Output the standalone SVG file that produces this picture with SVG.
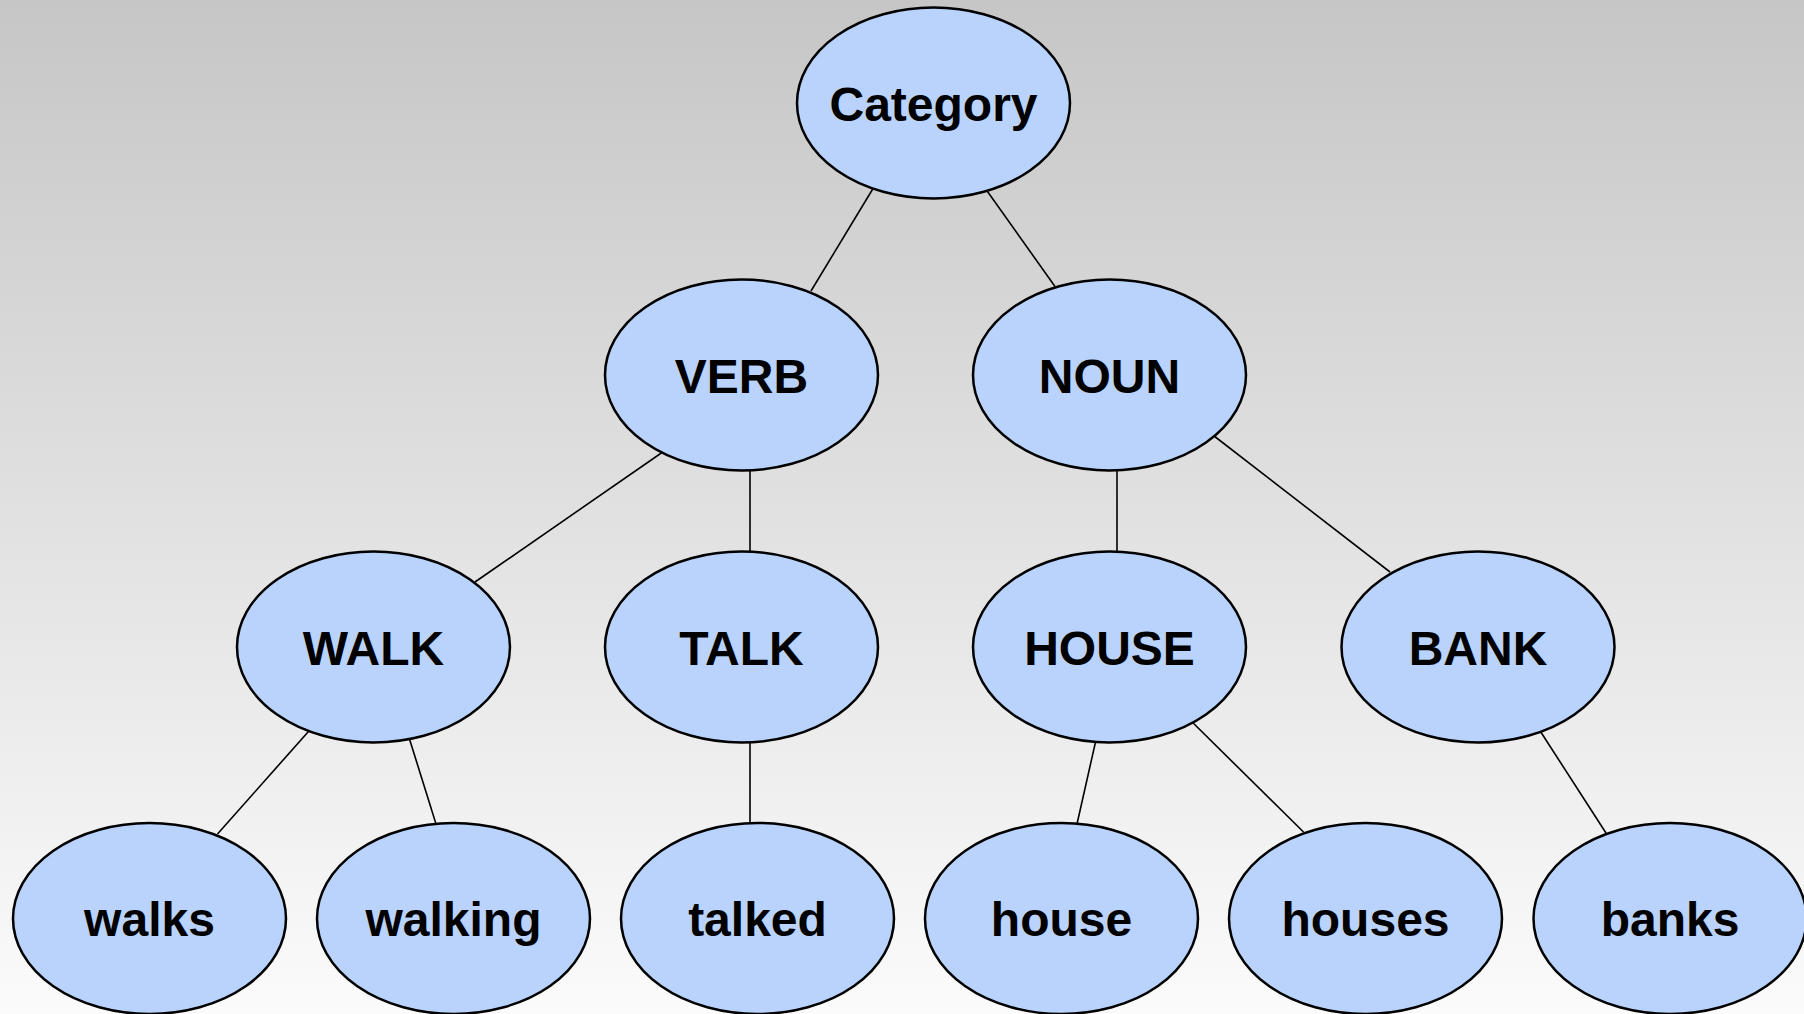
<svg xmlns="http://www.w3.org/2000/svg" width="1804" height="1014" viewBox="0 0 1804 1014">
  <defs>
    <linearGradient id="bg" x1="0" y1="0" x2="0" y2="1">
      <stop offset="0" stop-color="#c6c6c6"/>
      <stop offset="1" stop-color="#fbfbfb"/>
    </linearGradient>
  </defs>
  <style>
    .node ellipse { fill: #b9d3fc; stroke: #000; stroke-width: 2.5; }
    .node text { font-family: "Liberation Sans", Arial, sans-serif; font-weight: bold; font-size: 48px; text-anchor: middle; fill: #000; }
    .edges line { stroke: #000; stroke-width: 1.6; }
  </style>
  <rect x="0" y="0" width="1804" height="1014" fill="url(#bg)"/>

  <!-- tree edges -->
  <g class="edges">
    <line x1="880" y1="177" x2="811" y2="291"/>
    <line x1="980" y1="181" x2="1055" y2="286.5"/>
    <line x1="670" y1="447" x2="475" y2="582"/>
    <line x1="750" y1="460" x2="750" y2="560"/>
    <line x1="1117" y1="460" x2="1117" y2="560"/>
    <line x1="1205" y1="429" x2="1390" y2="572"/>
    <line x1="316" y1="723" x2="217.5" y2="834"/>
    <line x1="407" y1="731" x2="436" y2="824"/>
    <line x1="750" y1="733" x2="750" y2="830"/>
    <line x1="1098" y1="731" x2="1077" y2="824"/>
    <line x1="1185" y1="715" x2="1303.5" y2="832"/>
    <line x1="1535" y1="723" x2="1606" y2="833"/>
  </g>

  <g id="category" class="node"><ellipse cx="933.5" cy="103" rx="136.5" ry="95.5"/><text x="933.5" y="120.5">Category</text></g>

  <g id="verb" class="node"><ellipse cx="741.5" cy="375" rx="136.5" ry="95.5"/><text x="741.5" y="392.5">VERB</text></g>
  <g id="noun" class="node"><ellipse cx="1109.5" cy="375" rx="136.5" ry="95.5"/><text x="1109.5" y="392.5">NOUN</text></g>

  <g id="walk" class="node"><ellipse cx="373.5" cy="647" rx="136.5" ry="95.5"/><text x="373.5" y="664.5">WALK</text></g>
  <g id="talk" class="node"><ellipse cx="741.5" cy="647" rx="136.5" ry="95.5"/><text x="741.5" y="664.5">TALK</text></g>
  <g id="house-cat" class="node"><ellipse cx="1109.5" cy="647" rx="136.5" ry="95.5"/><text x="1109.5" y="664.5">HOUSE</text></g>
  <g id="bank" class="node"><ellipse cx="1478" cy="647" rx="136.5" ry="95.5"/><text x="1478" y="664.5">BANK</text></g>

  <g id="walks" class="node"><ellipse cx="149.5" cy="918.5" rx="136.5" ry="95.5"/><text x="149.5" y="936">walks</text></g>
  <g id="walking" class="node"><ellipse cx="453.5" cy="918.5" rx="136.5" ry="95.5"/><text x="453.5" y="936">walking</text></g>
  <g id="talked" class="node"><ellipse cx="757.5" cy="918.5" rx="136.5" ry="95.5"/><text x="757.5" y="936">talked</text></g>
  <g id="house" class="node"><ellipse cx="1061.5" cy="918.5" rx="136.5" ry="95.5"/><text x="1061.5" y="936">house</text></g>
  <g id="houses" class="node"><ellipse cx="1365.5" cy="918.5" rx="136.5" ry="95.5"/><text x="1365.5" y="936">houses</text></g>
  <g id="banks" class="node"><ellipse cx="1670" cy="918.5" rx="136.5" ry="95.5"/><text x="1670" y="936">banks</text></g>
</svg>
